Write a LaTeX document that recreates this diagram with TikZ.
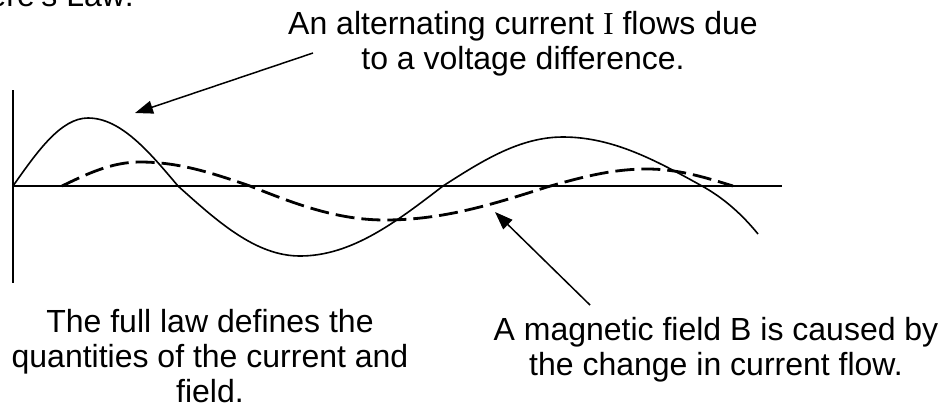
\documentclass[tikz,border=0pt]{standalone}
\usepackage{fontspec}
\setmainfont{Liberation Sans}
\newfontfamily\timesfont{Liberation Serif}
\usetikzlibrary{arrows.meta}

\begin{document}
\begin{tikzpicture}[
  x=0.5pt, y=-0.5pt,
  >={Triangle[length=9pt, width=6.5pt]},
  every node/.style={font=\fontsize{16pt}{17.4pt}\selectfont},
  axisline/.style={line width=0.75pt},
  current/.style={line width=0.8pt},
  field/.style={line width=1.4pt, dash pattern=on 9.5pt off 3.5pt},
  pointer/.style={->, line width=0.75pt},
  capt/.style={align=center, inner sep=0pt, anchor=north}
]
\useasboundingbox (0,0) rectangle (943,414);
% axes
\coordinate (ytop) at (13,90);
\coordinate (ybot) at (13,283);
\coordinate (origin) at (13,186);
\coordinate (xend) at (782,186);
\draw[axisline] (ytop) -- (ybot);
\draw[axisline] (origin) -- (xend);
% current I (solid)
\draw[current] (origin)
  .. controls (37.5,151.2) and (60.9,118) .. (88,118)
  .. controls (120.6,118) and (148.7,151.2) .. (178,186)
  .. controls (217.8,221.8) and (255.8,256) .. (300,256)
  .. controls (351.8,256) and (396.4,221.8) .. (443,186)
  .. controls (482.1,160.9) and (519.6,137) .. (563,137)
  .. controls (613.3,137) and (656.7,160.9) .. (702,186)
  .. controls (722,197) and (741,213) .. (758,234);
% field B (dashed)
\draw[field] (62,186)
  .. controls (87.4,173.7) and (111.8,162) .. (140,162)
  .. controls (179.8,162) and (214.1,173.7) .. (250,186)
  .. controls (294,203.4) and (336.1,220) .. (385,220)
  .. controls (443.6,220) and (494.2,203.9) .. (547,187)
  .. controls (579.6,177.8) and (610.8,169) .. (647,169)
  .. controls (678.1,169) and (705,177.3) .. (733,186);
% labels
\node[anchor=base east] (title) at (141,6) {Ampère's Law:};
\node[capt] (currtxt) at (523,11)
  {An alternating current {\timesfont I} flows due\\ to a voltage difference.};
\node[capt] (lawtxt) at (210,309)
  {The full law defines the\\ quantities of the current and\\ field.};
\node[capt] (fieldtxt) at (716,317)
  {A magnetic field B is caused by\\ the change in current flow.};
% pointers
\coordinate (currtail) at (313,53);
\coordinate (currtip) at (135,113);
\coordinate (fieldtail) at (590,305);
\coordinate (fieldtip) at (495,212);
\draw[pointer] (currtail) -- (currtip);
\draw[pointer] (fieldtail) -- (fieldtip);
\end{tikzpicture}
\end{document}
